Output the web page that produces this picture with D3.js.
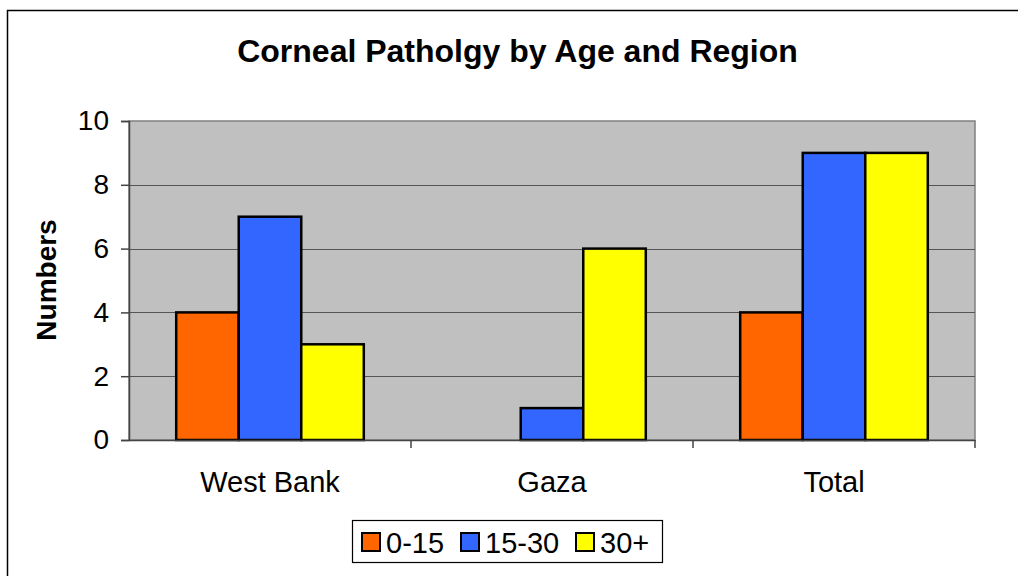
<!DOCTYPE html>
<html><head><meta charset="utf-8">
<script src="https://cdn.jsdelivr.net/npm/d3@7"></script>
<style>body{margin:0;background:#fff}svg{display:block;font-family:"Liberation Sans",Arial,sans-serif}</style>
</head><body>
<svg id="c" width="1018" height="576"></svg>
<script>
const title = "Corneal Patholgy by Age and Region";
const yTitle = "Numbers";
const categories = ["West Bank", "Gaza", "Total"];
const seriesNames = ["0-15", "15-30", "30+"];
const seriesColors = ["#FF6600", "#3366FF", "#FFFF00"];
const values015 = [4, 0, 4];
const values1530 = [7, 1, 9];
const values30p = [3, 6, 9];
const yTicks = [0, 2, 4, 6, 8, 10];

const seriesValues = [values015, values1530, values30p];
const svg = d3.select("#c");
const m = {l: 129, t: 121, r: 975, b: 440};
const FONT = "Liberation Sans, Arial, sans-serif";

svg.append("rect").attr("x", 7.5).attr("y", 10.5).attr("width", 1100).attr("height", 700)
  .attr("fill", "#fff").attr("stroke", "#000").attr("stroke-width", 1.5);

const x = d3.scaleBand().domain(categories).range([m.l, m.r]).paddingInner(0).paddingOuter(0);
const xs = d3.scaleBand().domain(seriesNames).range([0, x.bandwidth()]).paddingInner(0).paddingOuter(0.755);
const y = d3.scaleLinear().domain([0, 10]).range([m.b, m.t]);

svg.append("rect").attr("x", m.l).attr("y", m.t).attr("width", m.r - m.l).attr("height", m.b - m.t)
  .attr("fill", "#C0C0C0").attr("stroke", "#808080").attr("stroke-width", 1.5);

svg.append("g").selectAll("line").data(yTicks.filter(d => d > 0 && d < 10)).join("line")
  .attr("x1", m.l).attr("x2", m.r).attr("y1", d => Math.round(y(d)) + 0.5).attr("y2", d => Math.round(y(d)) + 0.5)
  .attr("stroke", "#555").attr("stroke-width", 1);

const rows = [];
categories.forEach((c, i) => seriesNames.forEach((s, j) => rows.push({c, s, v: seriesValues[j][i], color: seriesColors[j]})));
svg.append("g").selectAll("rect").data(rows.filter(d => d.v > 0)).join("rect")
  .attr("x", d => x(d.c) + xs(d.s)).attr("width", xs.bandwidth())
  .attr("y", d => y(d.v)).attr("height", d => y(0) - y(d.v))
  .attr("fill", d => d.color).attr("stroke", "#000").attr("stroke-width", 2.5);

const yAxis = d3.axisLeft(y).tickValues(yTicks).tickSize(8).tickPadding(12).tickFormat(d3.format("d"));
const ga = svg.append("g").attr("transform", `translate(${m.l},0)`).call(yAxis);
ga.attr("font-size", 28).attr("font-family", FONT);
ga.select(".domain").attr("stroke", "#444").attr("stroke-width", 1.5);
ga.selectAll(".tick line").attr("stroke", "#444").attr("stroke-width", 1.5);
ga.selectAll("text").attr("fill", "#000");

const xAxis = d3.axisBottom(x).tickSize(0).tickPadding(31);
const gx = svg.append("g").attr("transform", `translate(0,${m.b})`).call(xAxis);
gx.attr("font-size", 29).attr("font-family", FONT);
gx.select(".domain").attr("stroke", "#444").attr("stroke-width", 1.5);
gx.selectAll("text").attr("fill", "#000");
svg.append("g").selectAll("line").data(categories.slice(1)).join("line")
  .attr("x1", d => x(d)).attr("x2", d => x(d)).attr("y1", m.b).attr("y2", m.b + 8)
  .attr("stroke", "#444").attr("stroke-width", 1.5);
svg.append("line").attr("x1", m.r).attr("x2", m.r).attr("y1", m.b).attr("y2", m.b + 8)
  .attr("stroke", "#444").attr("stroke-width", 1.5);

svg.append("text").attr("x", 517.5).attr("y", 62).attr("text-anchor", "middle")
  .attr("font-size", 32).attr("font-weight", "bold").text(title);

svg.append("text").attr("transform", "translate(56,280) rotate(-90)").attr("text-anchor", "middle")
  .attr("font-size", 28).attr("font-weight", "bold").text(yTitle);

const lg = svg.append("g").attr("font-size", 29);
lg.append("rect").attr("x", 352.5).attr("y", 520.5).attr("width", 310).attr("height", 42)
  .attr("fill", "#fff").attr("stroke", "#000").attr("stroke-width", 1.2);
const lx = [362, 461, 576];
seriesNames.forEach((s, i) => {
  lg.append("rect").attr("x", lx[i]).attr("y", 533).attr("width", 18).attr("height", 18)
    .attr("fill", seriesColors[i]).attr("stroke", "#000").attr("stroke-width", 2);
  lg.append("text").attr("x", lx[i] + 24).attr("y", 553).text(s);
});
</script>
</body></html>
